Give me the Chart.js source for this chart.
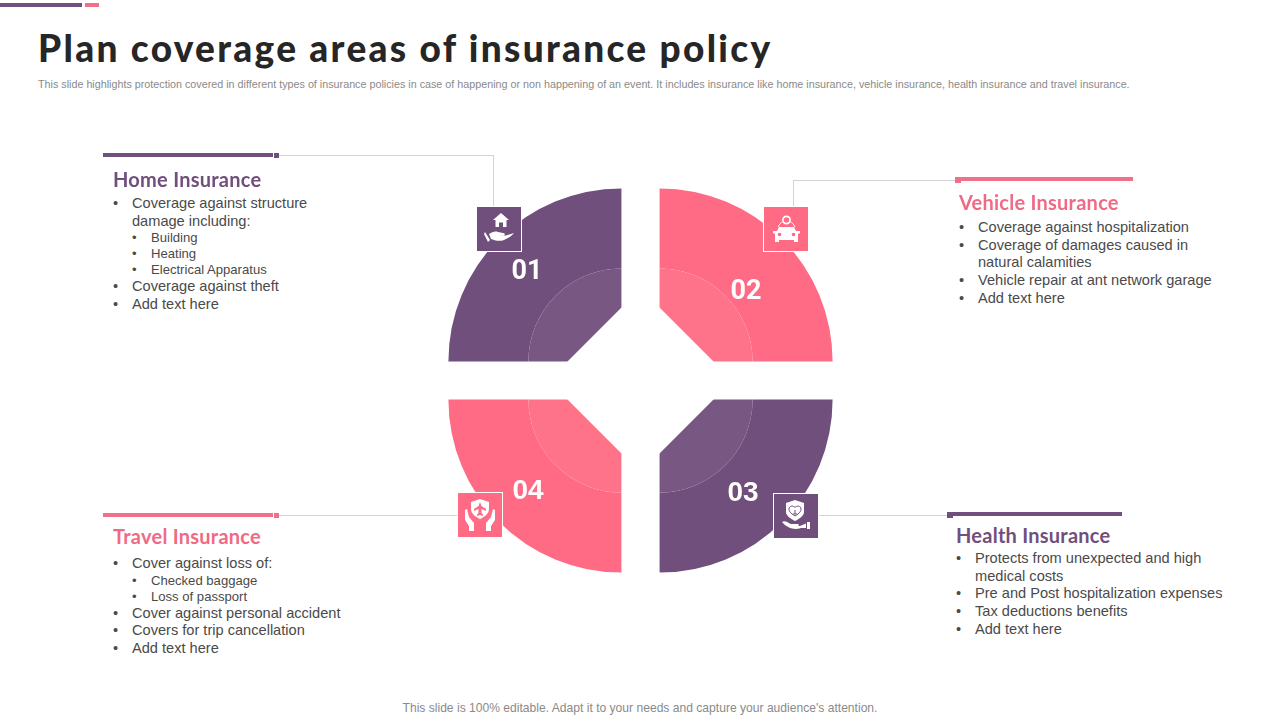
<!DOCTYPE html>
<html>
<head>
<meta charset="utf-8">
<title>Plan coverage areas of insurance policy</title>
<script src="https://cdn.jsdelivr.net/npm/chart.js@4"></script>
<style>
html, body { margin: 0; padding: 0; background: #fff; }
#slide { position: relative; width: 1280px; height: 720px; overflow: hidden; font-family: "Liberation Sans", Arial, sans-serif; color: #4a4a4a; }
#slide > * { position: absolute; }
#chart-wrap { left: 390px; top: 130px; width: 500px; height: 500px; }
.bar { height: 4px; }
.purple { background: #714f7c; }
.pink { background: #ff6b85; }
.rule { background: #d4d4d8; }
h1 { left: 38px; top: 25px; margin: 0; font: 900 37px/46px "Lato", sans-serif; letter-spacing: 2.3px; color: #262626; white-space: nowrap; }
.sub { left: 38px; top: 78px; font-size: 10.75px; line-height: 13px; color: #8a8a8a; white-space: nowrap; }
.foot { left: 0; width: 1280px; top: 701px; text-align: center; font-size: 12.1px; line-height: 15px; color: #8a8a8a; }
h2 { margin: 0; font: 700 20px/24px "Lato", sans-serif; letter-spacing: 0.25px; white-space: nowrap; }
h2.purple, h2.pink { background: none; }
h2.purple { color: #714f7c; }
h2.pink { color: #f06a85; }
ul.list { margin: 0; padding: 0; list-style: none; font-size: 14.6px; line-height: 17.7px; white-space: nowrap; }
ul.list li { position: relative; padding-left: 19px; }
ul.list li::before { content: "•"; position: absolute; left: 0; }
ul.list ul { margin: 0; padding: 0; list-style: none; font-size: 13.1px; line-height: 16px; }
.num { font: 700 27px/30px "Roboto", sans-serif; color: #fff; width: 50px; text-align: center; }
.num.arial { font: 700 28px/30px "Liberation Sans", Arial, sans-serif; }
.icon { width: 44px; height: 44px; box-sizing: content-box; border: 1px solid #fff; }
.icon svg { display: block; width: 44px; height: 44px; }
</style>
</head>
<body>
<div id="slide">
  <div class="bar purple" style="left:0;top:3px;width:82px;"></div>
  <div class="bar pink" style="left:85px;top:3px;width:14px;background:#f0708a;"></div>
  <h1>Plan coverage areas of insurance policy</h1>
  <div class="sub">This slide highlights protection covered in different types of insurance policies in case of happening or non happening of an event. It includes insurance like home insurance, vehicle insurance, health insurance and travel insurance.</div>

  <div id="chart-wrap"><canvas id="chart-coverage" width="500" height="500"></canvas></div>

  <!-- connector lines -->
  <div class="rule" style="left:279px;top:155px;width:215px;height:1px;"></div>
  <div class="rule" style="left:493px;top:155px;width:1px;height:52px;"></div>
  <div class="rule" style="left:793px;top:180px;width:163px;height:1px;"></div>
  <div class="rule" style="left:793px;top:180px;width:1px;height:27px;"></div>
  <div class="rule" style="left:279px;top:515px;width:178px;height:1px;"></div>
  <div class="rule" style="left:819px;top:515px;width:128px;height:1px;"></div>

  <div class="bar purple" style="left:103px;top:153px;width:170px;"></div>
  <div class="purple" style="left:274px;top:153px;width:5px;height:5px;"></div>
  <div class="bar pink" style="left:961px;top:177px;width:172px;background:#f0708a;"></div>
  <div class="pink" style="left:955px;top:177px;width:6px;height:6px;background:#f0708a;"></div>
  <div class="bar pink" style="left:103px;top:513px;width:170px;background:#f0708a;"></div>
  <div class="pink" style="left:274px;top:513px;width:5px;height:5px;background:#f0708a;"></div>
  <div class="bar purple" style="left:953px;top:512px;width:169px;"></div>
  <div class="purple" style="left:947px;top:512px;width:6px;height:6px;"></div>

  <h2 class="purple" style="left:113px;top:167px;">Home Insurance</h2>
  <ul class="list" style="left:113px;top:195px;">
    <li>Coverage against structure<br>damage including:
      <ul>
        <li>Building</li>
        <li>Heating</li>
        <li>Electrical Apparatus</li>
      </ul>
    </li>
    <li>Coverage against theft</li>
    <li>Add text here</li>
  </ul>

  <h2 class="pink" style="left:959px;top:190px;">Vehicle Insurance</h2>
  <ul class="list" style="left:959px;top:219px;">
    <li>Coverage against hospitalization</li>
    <li>Coverage of damages caused in<br>natural calamities</li>
    <li>Vehicle repair at ant network garage</li>
    <li>Add text here</li>
  </ul>

  <h2 class="pink" style="left:113px;top:524px;">Travel Insurance</h2>
  <ul class="list" style="left:113px;top:555px;">
    <li>Cover against loss of:
      <ul>
        <li>Checked baggage</li>
        <li>Loss of passport</li>
      </ul>
    </li>
    <li>Cover against personal accident</li>
    <li>Covers for trip cancellation</li>
    <li>Add text here</li>
  </ul>

  <h2 class="purple" style="left:956px;top:523px;">Health Insurance</h2>
  <ul class="list" style="left:956px;top:550px;">
    <li>Protects from unexpected and high<br>medical costs</li>
    <li>Pre and Post hospitalization expenses</li>
    <li>Tax deductions benefits</li>
    <li>Add text here</li>
  </ul>

  <div class="num" style="left:502px;top:255px;">01</div>
  <div class="num" style="left:721px;top:275px;">02</div>
  <div class="num arial" style="left:718px;top:477px;">03</div>
  <div class="num arial" style="left:503px;top:475px;">04</div>

  <!-- icons -->
  <div class="icon purple" style="left:476px;top:206px;">
    <svg viewBox="0 0 44 44" fill="#fff">
      <path d="M24 6 L32 13 H29.5 V20 H26 V15.5 H22 V20 H18.5 V13 H16 Z"/>
      <path d="M8 25 L13 33 L11 35 L7 27 Z"/>
      <path d="M12 27 C15 25 18 24 21 25 L26 26 C28 26 28.5 28 27 28.5 L22 29 L29 28.5 L37 26 C35 29 31 31 27 33 C22 35 17 33 14 32 Z"/>
    </svg>
  </div>
  <div class="icon pink" style="left:763px;top:206px;">
    <svg viewBox="0 0 44 44" fill="#fff">
      <circle cx="22.5" cy="13" r="3.6" fill="none" stroke="#fff" stroke-width="1.8"/>
      <path d="M14 20 C15.5 17 17 15.5 18.5 15 M31 20 C29.5 17 28 15.5 26.5 15" fill="none" stroke="#fff" stroke-width="1"/>
      <path d="M15 20 H30 L32 24 H36 V26 L34 27 V35 H30 V33 H15 V35 H11 V27 L9 26 V24 H13 Z"/>
      <circle cx="15.5" cy="27.5" r="1.8" fill="#ff6b85"/><circle cx="29.5" cy="27.5" r="1.8" fill="#ff6b85"/>
    </svg>
  </div>
  <div class="icon purple" style="left:773px;top:493px;">
    <svg viewBox="0 0 44 44" fill="#fff">
      <path d="M21 6 L30 9 V18 C30 22 25 25 21 27 C17 25 12 22 12 18 V9 Z"/>
      <path d="M21 22 C16 19 15 17 15 15 C15 12 19 11 21 13.5 C23 11 27 12 27 15 C27 17 26 19 21 22 Z" fill="none" stroke="#714f7c" stroke-width="1"/>
      <path d="M19 20 H23 M21 16 V20" stroke="#714f7c" stroke-width="1"/>
      <path d="M8 28 C11 26 14 29 17 30 H24 C25 30 25 32 24 32 H19 H26 L32 29.5 V34 H27 C21 36 14 35 8 28 Z"/>
      <rect x="33" y="28" width="3" height="7"/>
    </svg>
  </div>
  <div class="icon pink" style="left:457px;top:492px;">
    <svg viewBox="0 0 44 44" fill="#fff">
      <path d="M22 6 L31 9 V16 C31 21 26 24 22 26 C18 24 13 21 13 16 V9 Z"/>
      <path d="M22 9 L23.5 13 L28 16 V18 L23.5 16 V20 L25 21.5 V23 L22 22 L19 23 V21.5 L20.5 20 V16 L16 18 V16 L20.5 13 Z" fill="#ff6b85"/>
      <path d="M7 17 L9 16 L11 24 L16 30 V38 H11 V33 L7 27 Z"/>
      <path d="M37 17 L35 16 L33 24 L28 30 V38 H33 V33 L37 27 Z"/>
    </svg>
  </div>

  <div class="foot">This slide is 100% editable. Adapt it to your needs and capture your audience's attention.</div>
</div>

<script>
const categories = ["Vehicle Insurance", "Health Insurance", "Travel Insurance", "Home Insurance"];
const outerValues = [25, 25, 25, 25];
const innerValues = [25, 25, 25, 25];
const outerColors = ["#ff6b85", "#714f7c", "#ff6b85", "#714f7c"];
const innerColors = ["#ff738a", "#785882", "#ff738a", "#785882"];

// white diamond in the middle cuts the inner corner off each slice
const centerCut = {
    id: "centerCut",
    afterDatasetsDraw: function(chart) {
        var area = chart.chartArea;
        var cx = (area.left + area.right) / 2;
        var cy = (area.top + area.bottom) / 2;
        var d = 92;
        var ctx = chart.ctx;
        ctx.save();
        ctx.fillStyle = "#fff";
        ctx.beginPath();
        ctx.moveTo(cx, cy - d);
        ctx.lineTo(cx + d, cy);
        ctx.lineTo(cx, cy + d);
        ctx.lineTo(cx - d, cy);
        ctx.closePath();
        ctx.fill();
        ctx.restore();
    }
};

new Chart(document.getElementById("chart-coverage").getContext("2d"), {
    type: "pie",
    data: {
        labels: categories,
        datasets: [
            { data: outerValues, backgroundColor: outerColors, borderWidth: 0, offset: 108, hoverOffset: 0, weight: 80 },
            { data: innerValues, backgroundColor: innerColors, borderWidth: 0, offset: 108, hoverOffset: 0, weight: 93 }
        ]
    },
    options: {
        responsive: false,
        animation: false,
        radius: 173,
        layout: { padding: { left: 1, top: 1 } },
        plugins: { legend: { display: false }, tooltip: { enabled: false } }
    },
    plugins: [centerCut]
});
</script>
</body>
</html>
